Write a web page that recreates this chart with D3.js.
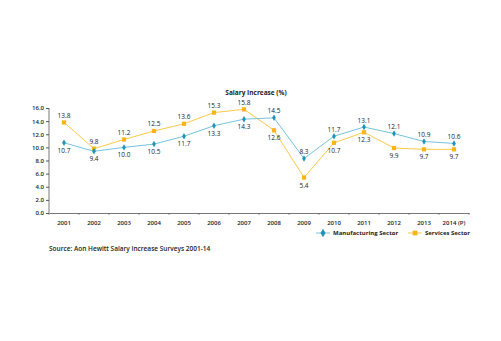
<!DOCTYPE html>
<html>
<head>
<meta charset="utf-8">
<script src="https://cdn.jsdelivr.net/npm/d3@7"></script>
<style>
body { margin: 0; background: #fff; }
text { font-family: "Open Sans", sans-serif; fill: #222; }
</style>
</head>
<body>
<div id="chart-area"></div>
<script>
var years = ["2001","2002","2003","2004","2005","2006","2007","2008","2009","2010","2011","2012","2013","2014 (P)"];
var manufacturing = [10.7, 9.4, 10.0, 10.5, 11.7, 13.3, 14.3, 14.5, 8.3, 11.7, 13.1, 12.1, 10.9, 10.6];
var services = [13.8, 9.8, 11.2, 12.5, 13.6, 15.3, 15.8, 12.6, 5.4, 10.7, 12.3, 9.9, 9.7, 9.7];
var yTicks = [0, 2, 4, 6, 8, 10, 12, 14, 16];
// label above (-1) or below (1) each point
var manuPos = [1,1,1,1,1,1,1,-1,-1,-1,-1,-1,-1,-1];
var servPos = [-1,-1,-1,-1,-1,-1,-1,1,1,1,1,1,1,1];

var margin = {left:49, right:32, top:108, bottom:128};
var width = 501 - margin.left - margin.right;
var height = 341 - margin.top - margin.bottom;

var manuColor = "#74c3dc", manuMark = "#1f93b8";
var servColor = "#fdc94a", servMark = "#f9b418";

var svg = d3.select("#chart-area").append("svg")
    .attr("width", 501)
    .attr("height", 341);

var g = svg.append("g")
    .attr("transform", "translate(" + margin.left + "," + margin.top + ")");

var x = d3.scaleBand()
    .domain(years)
    .range([0, width]);

var y = d3.scaleLinear()
    .domain([0, 16])
    .range([height, 0]);

// title
svg.append("text")
    .attr("x", 256)
    .attr("y", 95)
    .attr("text-anchor", "middle")
    .attr("font-size", "6.5px")
    .attr("font-weight", "bold")
    .text("Salary Increase (%)");

// axes
var xAxisCall = d3.axisBottom(x).tickSize(0).tickPadding(8);
var xAxis = g.append("g")
    .attr("transform", "translate(0," + height + ")")
    .call(xAxisCall);
xAxis.select(".domain").attr("stroke", "#555").attr("stroke-width", 0.8);
xAxis.selectAll("text").attr("font-size", "6px").attr("font-weight", "600");
xAxis.selectAll(".bound").data(years.concat([null])).enter().append("line")
    .attr("x1", (d, i) => x.step() * i).attr("x2", (d, i) => x.step() * i)
    .attr("y1", 0).attr("y2", 2)
    .attr("stroke", "#555").attr("stroke-width", 0.6);

var yAxisCall = d3.axisLeft(y)
    .tickValues(yTicks)
    .tickSize(3)
    .tickPadding(2)
    .tickFormat(d3.format(".1f"));
var yAxis = g.append("g").call(yAxisCall);
yAxis.select(".domain").attr("stroke", "#555").attr("stroke-width", 0.8).attr("d", "M0,0V" + height);
yAxis.selectAll(".tick line").attr("stroke", "#555");
yAxis.selectAll("text").attr("font-size", "6px").attr("font-weight", "600");

var cx = (d, i) => x(years[i]) + x.bandwidth() / 2;
var line = d3.line().x(cx).y(d => y(d));

function drawSeries(data, pos, color, mark, shape, size) {
    g.append("path")
        .datum(data)
        .attr("fill", "none")
        .attr("stroke", color)
        .attr("stroke-width", 1)
        .attr("d", line);
    g.selectAll(null).data(data).enter().append("path")
        .attr("d", d3.symbol().type(shape).size(size))
        .attr("transform", (d, i) => "translate(" + cx(d, i) + "," + y(d) + ")")
        .attr("fill", mark);
    g.selectAll(null).data(data).enter().append("text")
        .attr("x", cx)
        .attr("y", (d, i) => y(d) + (pos[i] > 0 ? 10 : -4.5))
        .attr("text-anchor", "middle")
        .attr("font-size", "6.5px")
        .text(d => d.toFixed(1));
}

drawSeries(services, servPos, servColor, servMark, d3.symbolSquare, 18);
drawSeries(manufacturing, manuPos, manuColor, manuMark, d3.symbolDiamond, 12);

// legend
var legend = [
    {name: "Manufacturing Sector", color: manuColor, mark: manuMark, shape: d3.symbolDiamond, size: 22, x: 323},
    {name: "Services Sector", color: servColor, mark: servMark, shape: d3.symbolSquare, size: 22, x: 415}
];
legend.forEach(function(l) {
    svg.append("line")
        .attr("x1", l.x - 7).attr("x2", l.x + 7)
        .attr("y1", 233).attr("y2", 233)
        .attr("stroke", l.color).attr("stroke-width", 1);
    svg.append("path")
        .attr("d", d3.symbol().type(l.shape).size(l.size))
        .attr("transform", "translate(" + l.x + ",233)")
        .attr("fill", l.mark);
    svg.append("text")
        .attr("x", l.x + 10).attr("y", 235.2)
        .attr("font-size", "6px")
        .attr("font-weight", "bold")
        .text(l.name);
});

// source
svg.append("text")
    .attr("x", 49).attr("y", 251)
    .attr("font-size", "6.5px")
    .attr("font-weight", "600")
    .text("Source: Aon Hewitt Salary Increase Surveys 2001-14");
</script>
</body>
</html>
